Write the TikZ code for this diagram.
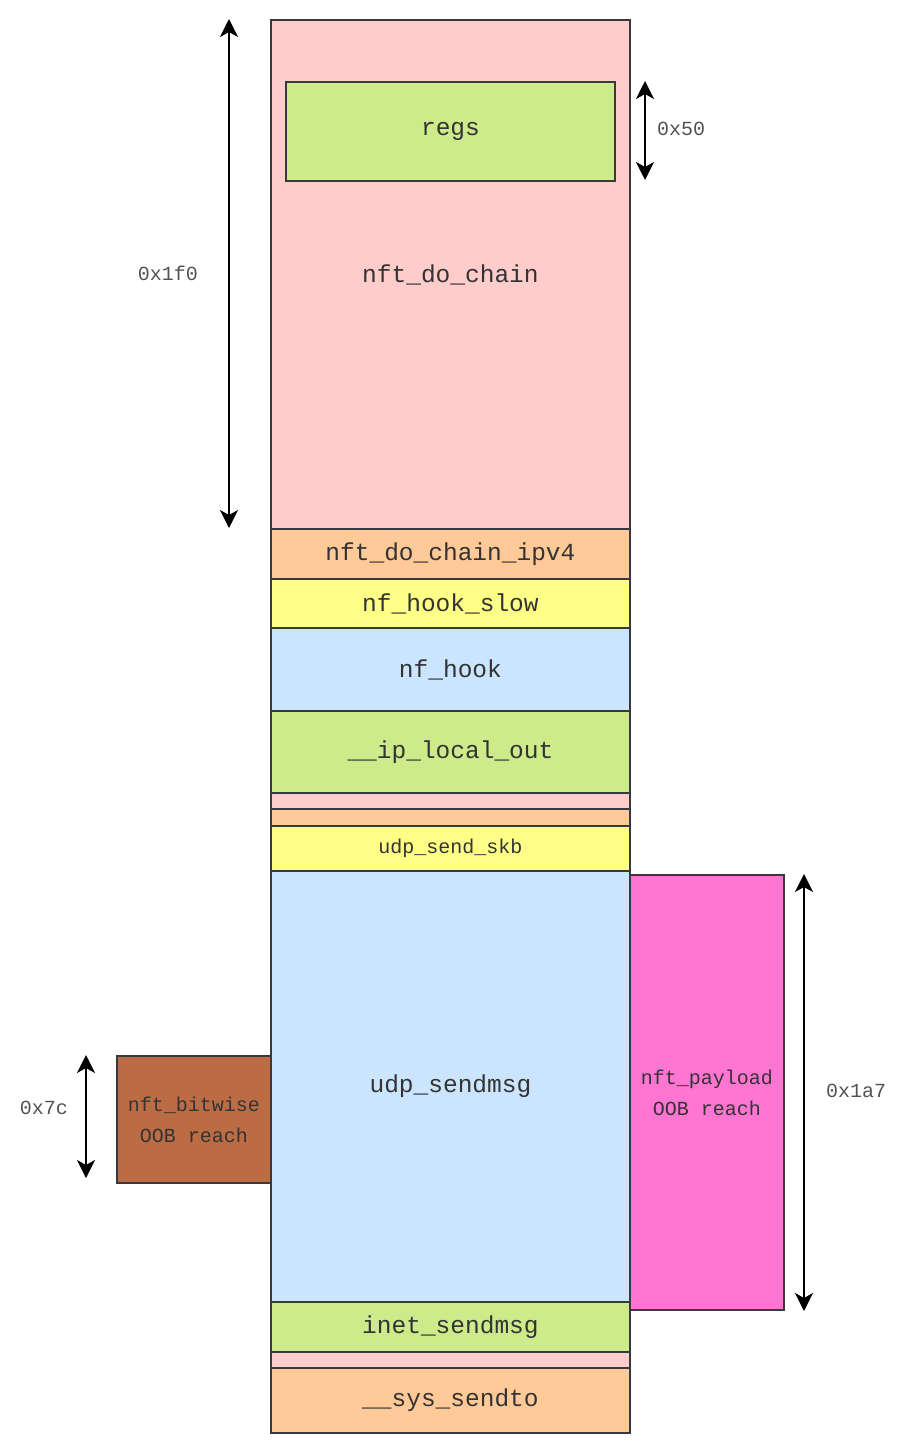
\documentclass[tikz,border=0pt]{standalone}
\usepackage{fontspec}
\setmonofont{Liberation Mono}
\usepackage{xcolor}
\usepackage{tikz}
\usetikzlibrary{arrows.meta}

\definecolor{edgegray}{HTML}{36393D}
\definecolor{txtgray}{HTML}{333333}
\definecolor{fpink}{HTML}{FFCCCC}
\definecolor{fgreen}{HTML}{CDEB8B}
\definecolor{forange}{HTML}{FFC998}
\definecolor{fyellow}{HTML}{FFFF88}
\definecolor{fblue}{HTML}{CCE5FF}
\definecolor{fmagenta}{HTML}{FF75D2}
\definecolor{fbrown}{HTML}{BB6C44}

\tikzset{
frame/.style={draw=edgegray, line width=1.9pt, anchor=north west, inner sep=0pt,
  text=txtgray, align=center, font=\ttfamily\fontsize{24.5}{30}\selectfont},
small/.style={font=\ttfamily\fontsize{20}{31}\selectfont},
dim/.style={{Stealth[length=18pt,width=18pt,inset=5pt]}-{Stealth[length=18pt,width=18pt,inset=5pt]},
  line width=1.8pt, black},
dimlabel/.style={small, text=txtgray!85!white}
}

\begin{document}
\begin{tikzpicture}[x=1pt,y=-1pt]
\useasboundingbox (0,0) rectangle (910,1440);
% call stack
\foreach \nm/\y/\h/\c/\t in {chain/19/509/fpink/nft\_do\_chain,
  ipv4/528/50/forange/nft\_do\_chain\_ipv4,
  hookslow/578/49/fyellow/nf\_hook\_slow,
  hook/627/83/fblue/nf\_hook,
  localout/710/82/fgreen/\_\_ip\_local\_out,
  gapa/792/16/fpink/,
  gapb/808/17/forange/,
  sendskb/825/45/fyellow/{\fontsize{20}{24}\selectfont udp\_send\_skb},
  sendmsg/870/431/fblue/udp\_sendmsg,
  inet/1301/50/fgreen/inet\_sendmsg,
  gapc/1351/16/fpink/,
  systo/1367/65/forange/\_\_sys\_sendto} {
\node[frame, fill=\c, minimum width=359pt, minimum height=\h pt] (\nm) at (270,\y) {\t};
}
\node[frame, fill=fgreen, minimum width=329pt, minimum height=99pt] (regs) at (285,81) {regs};

% OOB boxes
\node[frame, small, fill=fmagenta, minimum width=154pt, minimum height=435pt] (payload) at (629,874) {nft\_payload\\OOB reach};
\node[frame, small, fill=fbrown, minimum width=154pt, minimum height=127pt] (bitwise) at (116,1055) {nft\_bitwise\\OOB reach};

% sizes
\coordinate (chaintop) at (229,19);
\coordinate (chainbot) at (229,528);
\coordinate (regstop) at (645,81);
\coordinate (regsbot) at (645,180);
\coordinate (paytop) at (804,874);
\coordinate (paybot) at (804,1311);
\coordinate (bittop) at (86,1055);
\coordinate (bitbot) at (86,1178);
\draw[dim] (chaintop) -- (chainbot);
\draw[dim] (regstop) -- (regsbot);
\draw[dim] (paytop) -- (paybot);
\draw[dim] (bittop) -- (bitbot);
\node[dimlabel] (chainsize) at (168,273) {0x1f0};
\node[dimlabel] (regssize) at (681,129) {0x50};
\node[dimlabel] (paysize) at (856,1091) {0x1a7};
\node[dimlabel] (bitsize) at (44,1108) {0x7c};
\end{tikzpicture}
\end{document}
